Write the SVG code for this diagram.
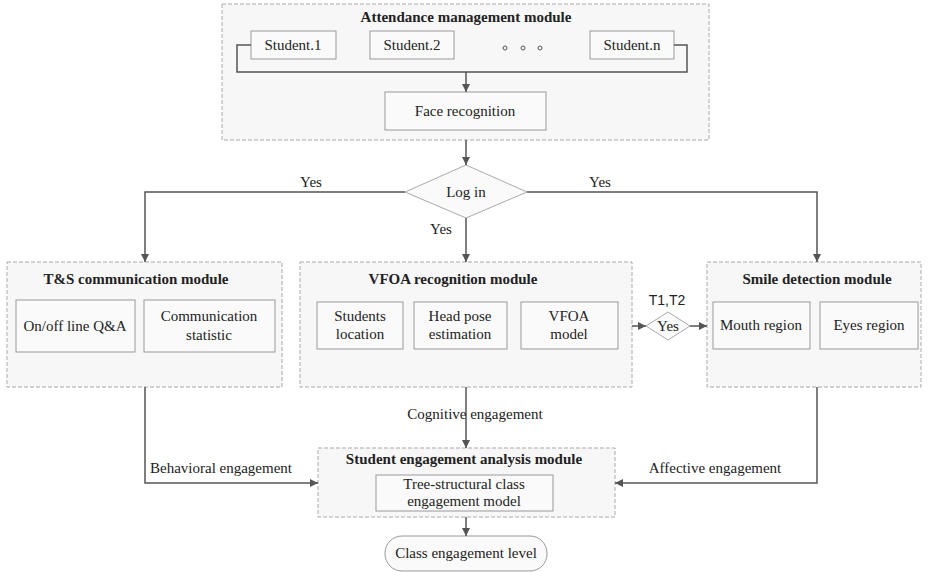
<svg xmlns="http://www.w3.org/2000/svg" width="928" height="572" viewBox="0 0 928 572">
<defs>
<marker id="ah" viewBox="0 0 10 10" refX="10" refY="5" markerWidth="8" markerHeight="8" markerUnits="userSpaceOnUse" orient="auto">
<path d="M0,0 L10,5 L0,10 z" fill="#555"/>
</marker>
<style>
.mod{fill:#f7f7f7;stroke:#aaa;stroke-width:1;stroke-dasharray:4,2}
.box{fill:#fafafa;stroke:#999;stroke-width:1}
.t{font-family:"Liberation Serif",serif;font-size:15px;fill:#222;text-anchor:middle}
.b{font-family:"Liberation Serif",serif;font-size:15px;font-weight:bold;fill:#222;text-anchor:middle}
.s{font-family:"Liberation Sans",sans-serif;font-size:14px;fill:#222;text-anchor:middle}
.c{fill:none;stroke:#555;stroke-width:1.5}
.ca{fill:none;stroke:#555;stroke-width:1.5;marker-end:url(#ah)}
</style>
</defs>
<rect width="928" height="572" fill="#fff"/>

<g id="attendance">
<rect class="mod" x="222" y="4" width="487" height="136"/>
<text class="b" x="466" y="22">Attendance management module</text>
<rect class="box" x="251" y="31" width="85" height="28"/>
<text class="t" x="293" y="50">Student.1</text>
<rect class="box" x="370" y="31" width="84" height="28"/>
<text class="t" x="412" y="50">Student.2</text>
<circle cx="505" cy="48" r="2" fill="none" stroke="#555"/>
<circle cx="523" cy="48" r="2" fill="none" stroke="#555"/>
<circle cx="540" cy="48" r="2" fill="none" stroke="#555"/>
<rect class="box" x="590" y="31" width="84" height="28"/>
<text class="t" x="632" y="50">Student.n</text>
<rect class="box" x="385" y="92" width="161" height="38"/>
<text class="t" x="465" y="116">Face recognition</text>
</g>

<g id="login">
<polygon points="466,165 527,192 466,218 405,192" fill="#fafafa" stroke="#aaa"/>
<text class="t" x="466" y="197">Log in</text>
</g>

<g id="ts">
<rect class="mod" x="7" y="262" width="275" height="125"/>
<text class="b" x="136" y="284">T&amp;S communication module</text>
<rect class="box" x="16" y="300" width="119" height="52"/>
<text class="t" x="75" y="331">On/off line Q&amp;A</text>
<rect class="box" x="144" y="300" width="131" height="52"/>
<text class="t" x="209" y="321">Communication</text>
<text class="t" x="209" y="340">statistic</text>
</g>

<g id="vfoa">
<rect class="mod" x="300" y="262" width="332" height="125"/>
<text class="b" x="453" y="284">VFOA recognition module</text>
<rect class="box" x="317" y="302" width="86" height="47"/>
<text class="t" x="360" y="321">Students</text>
<text class="t" x="360" y="339">location</text>
<rect class="box" x="414" y="302" width="93" height="47"/>
<text class="t" x="460" y="321">Head pose</text>
<text class="t" x="460" y="339">estimation</text>
<rect class="box" x="521" y="302" width="97" height="47"/>
<text class="t" x="569" y="321">VFOA</text>
<text class="t" x="569" y="339">model</text>
</g>

<g id="yes2">
<polygon points="668,312 690,326 668,340 646,326" fill="#fafafa" stroke="#aaa"/>
<text class="t" x="668" y="331">Yes</text>
<text class="s" x="667" y="305">T1,T2</text>
</g>

<g id="smile">
<rect class="mod" x="707" y="262" width="214" height="125"/>
<text class="b" x="817" y="284">Smile detection module</text>
<rect class="box" x="713" y="302" width="97" height="47"/>
<text class="t" x="761" y="330">Mouth region</text>
<rect class="box" x="820" y="302" width="98" height="47"/>
<text class="t" x="869" y="330">Eyes region</text>
</g>

<g id="analysis">
<rect class="mod" x="318" y="448" width="297" height="69"/>
<text class="b" x="464" y="464">Student engagement analysis module</text>
<rect class="box" x="376" y="475" width="177" height="36"/>
<text class="t" x="464" y="489">Tree-structural class</text>
<text class="t" x="464" y="506">engagement model</text>
</g>

<g id="level">
<rect x="385" y="536" width="162" height="35" rx="17" fill="#fafafa" stroke="#999"/>
<text class="t" x="466" y="558">Class engagement level</text>
</g>

<g id="connectors">
<polyline class="c" points="251,45 237,45 237,72 687,72 687,45 674,45"/>
<line class="ca" x1="466" y1="72" x2="466" y2="92"/>
<line class="ca" x1="466" y1="140" x2="466" y2="165"/>
<polyline class="ca" points="405,192 145,192 145,262"/>
<polyline class="ca" points="527,192 817,192 817,262"/>
<line class="ca" x1="466" y1="218" x2="466" y2="262"/>
<line class="ca" x1="632" y1="326" x2="646" y2="326"/>
<line class="ca" x1="690" y1="326" x2="707" y2="326"/>
<polyline class="ca" points="145,387 145,483 318,483"/>
<line class="ca" x1="466" y1="387" x2="466" y2="448"/>
<polyline class="ca" points="817,387 817,483 615,483"/>
<line class="ca" x1="466" y1="517" x2="466" y2="536"/>
</g>

<g id="labels">
<text class="t" x="311" y="187">Yes</text>
<text class="t" x="600" y="187">Yes</text>
<text class="t" x="441" y="234">Yes</text>
<text class="t" x="475" y="419">Cognitive engagement</text>
<text class="t" x="221" y="473">Behavioral engagement</text>
<text class="t" x="715" y="473">Affective engagement</text>
</g>
</svg>
